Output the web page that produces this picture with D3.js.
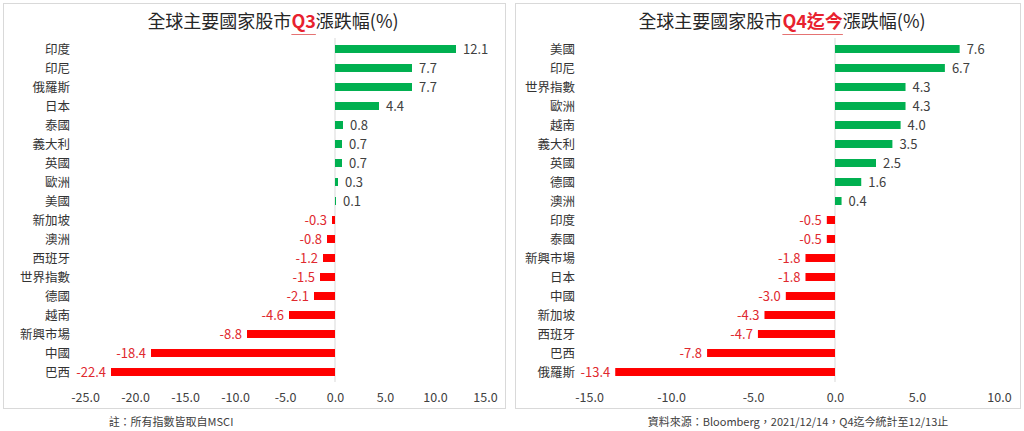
<!DOCTYPE html>
<html>
<head>
<meta charset="utf-8">
<script src="https://cdn.jsdelivr.net/npm/d3@7"></script>
<style>
  body { margin: 0; background: #fff; }
  svg { font-family: "Noto Sans CJK TC", "Noto Sans", sans-serif; }
</style>
</head>
<body>
<svg id="chart" width="1024" height="431"></svg>
<script>
// Q3 chart
const q3Countries = ["印度", "印尼", "俄羅斯", "日本", "泰國", "義大利", "英國", "歐洲", "美國",
    "新加坡", "澳洲", "西班牙", "世界指數", "德國", "越南", "新興市場", "中國", "巴西"];
const q3Values = [12.1, 7.7, 7.7, 4.4, 0.8, 0.7, 0.7, 0.3, 0.1,
    -0.3, -0.8, -1.2, -1.5, -2.1, -4.6, -8.8, -18.4, -22.4];
const q3Ticks = [-25, -20, -15, -10, -5, 0, 5, 10, 15];

// Q4 to date chart
const q4Countries = ["美國", "印尼", "世界指數", "歐洲", "越南", "義大利", "英國", "德國", "澳洲",
    "印度", "泰國", "新興市場", "日本", "中國", "新加坡", "西班牙", "巴西", "俄羅斯"];
const q4Values = [7.6, 6.7, 4.3, 4.3, 4.0, 3.5, 2.5, 1.6, 0.4,
    -0.5, -0.5, -1.8, -1.8, -3.0, -4.3, -4.7, -7.8, -13.4];
const q4Ticks = [-15, -10, -5, 0, 5, 10];

const green = "#00b050";
const red = "#ff0000";
const redText = "#e0282e";

// plain hyphen instead of unicode minus
const fmt = (v) => v.toFixed(1);

const svg = d3.select("#chart");

function drawPanel(p) {
    const g = svg.append("g");

    // panel border
    g.append("rect")
        .attr("x", p.left + 0.5)
        .attr("y", 3.5)
        .attr("width", p.width)
        .attr("height", 405)
        .style("fill", "none")
        .style("stroke", "#d9d9d9");

    const x = d3.scaleLinear()
        .domain(p.domain)
        .range(p.xRange);

    const y = d3.scaleBand()
        .domain(p.countries)
        .range([39.5, 381.5])
        .paddingInner(0.58)
        .paddingOuter(0.29);

    const data = p.countries.map((c, i) => ({name: c, value: p.values[i]}));

    // zero line
    g.append("line")
        .attr("x1", x(0)).attr("x2", x(0))
        .attr("y1", 38).attr("y2", 382)
        .style("stroke", "#d9d9d9");

    g.selectAll(".bar")
        .data(data)
        .enter().append("rect")
        .attr("class", "bar")
        .attr("x", (d) => Math.min(x(0), x(d.value)))
        .attr("y", (d) => y(d.name))
        .attr("width", (d) => Math.abs(x(d.value) - x(0)))
        .attr("height", y.bandwidth())
        .style("fill", (d) => d.value >= 0 ? green : red);

    // value labels
    g.selectAll(".val")
        .data(data)
        .enter().append("text")
        .attr("class", "val")
        .attr("x", (d) => d.value >= 0 ? x(d.value) + 7 : x(d.value) - 5)
        .attr("y", (d) => y(d.name) + y.bandwidth() / 2)
        .attr("dy", "0.36em")
        .attr("text-anchor", (d) => d.value >= 0 ? "start" : "end")
        .style("font-size", "13px")
        .style("fill", (d) => d.value >= 0 ? "#404040" : redText)
        .text((d) => fmt(d.value));

    // category labels
    g.selectAll(".cat")
        .data(data)
        .enter().append("text")
        .attr("class", "cat")
        .attr("x", p.catX)
        .attr("y", (d) => y(d.name) + y.bandwidth() / 2)
        .attr("dy", "0.36em")
        .attr("text-anchor", "end")
        .style("font-size", "12.5px")
        .style("fill", "#333")
        .text((d) => d.name);

    // x axis
    const axis = g.append("g")
        .attr("transform", "translate(0,390)")
        .call(d3.axisBottom(x).tickValues(p.ticks).tickSize(0).tickFormat(fmt));
    axis.select(".domain").remove();
    axis.selectAll("text")
        .style("font-family", "\"Noto Sans CJK TC\", \"Noto Sans\", sans-serif")
        .style("font-size", "12.5px")
        .style("fill", "#404040");

    // title
    const title = g.append("text")
        .attr("x", p.titleX)
        .attr("y", 28)
        .attr("text-anchor", "middle")
        .style("font-size", "18px")
        .style("fill", "#262626");
    title.append("tspan").text(p.titlePre);
    const hl = title.append("tspan").style("fill", "#e8212e").style("font-weight", "bold").text(p.titleHl);
    title.append("tspan").text(p.titlePost);

    // underline under the highlighted part
    const x0 = hl.node().getStartPositionOfChar(0).x;
    const x1 = hl.node().getEndPositionOfChar(p.titleHl.length - 1).x;
    g.append("line")
        .attr("x1", x0).attr("x2", x1)
        .attr("y1", 34.5).attr("y2", 34.5)
        .style("stroke", "#e57373");

    // footnote
    g.append("text")
        .attr("x", p.noteX)
        .attr("y", 426)
        .attr("text-anchor", "middle")
        .style("font-size", "11px")
        .style("fill", "#404040")
        .text(p.note);
}

drawPanel({
    left: 3, width: 502,
    countries: q3Countries, values: q3Values, ticks: q3Ticks,
    domain: [-25, 15], xRange: [85, 485], catX: 70,
    titleX: 273, titlePre: "全球主要國家股市", titleHl: "Q3", titlePost: "漲跌幅(%)",
    noteX: 171, note: "註：所有指數皆取自MSCI"
});

drawPanel({
    left: 515, width: 505,
    countries: q4Countries, values: q4Values, ticks: q4Ticks,
    domain: [-15, 10], xRange: [589, 999], catX: 575,
    titleX: 782, titlePre: "全球主要國家股市", titleHl: "Q4迄今", titlePost: "漲跌幅(%)",
    noteX: 798, note: "資料來源：Bloomberg，2021/12/14，Q4迄今統計至12/13止"
});
</script>
</body>
</html>
